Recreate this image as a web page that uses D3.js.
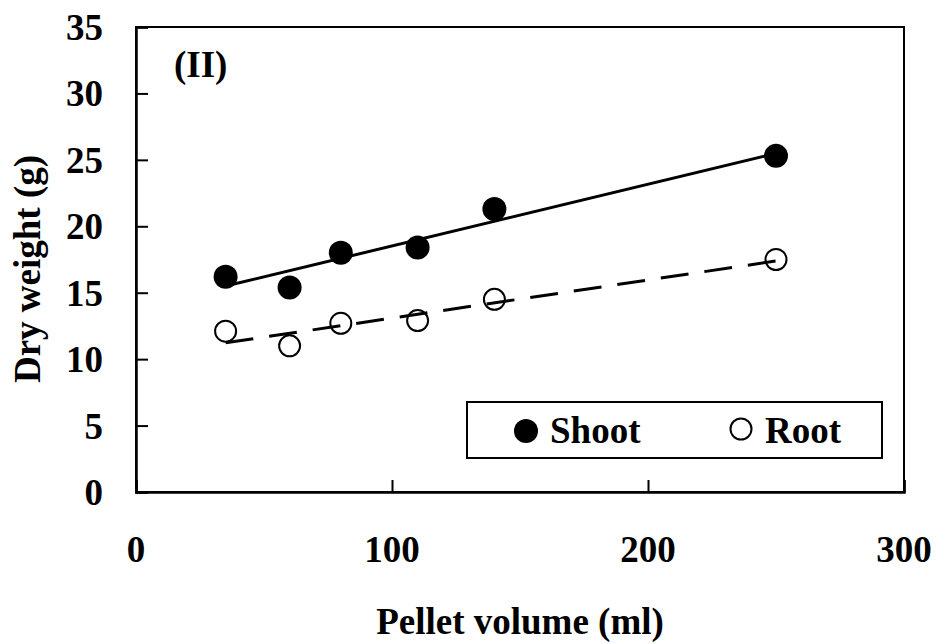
<!DOCTYPE html>
<html>
<head>
<meta charset="utf-8">
<script src="https://cdn.jsdelivr.net/npm/d3@7"></script>
<style>
  html, body { margin: 0; padding: 0; background: #fff; }
  svg text { font-family: "Liberation Serif", "Times New Roman", serif; font-weight: bold; fill: #000; }
</style>
</head>
<body>
<svg id="chart" width="937" height="644"></svg>
<script>
// Pellet volume (ml) and dry weight (g) of shoots and roots
const pelletVolume = [35, 60, 80, 110, 140, 250];
const shootWeight  = [16.2, 15.4, 18.0, 18.4, 21.3, 25.3];
const rootWeight   = [12.1, 11.0, 12.7, 12.9, 14.5, 17.5];
const xTicks = [0, 100, 200, 300];
const yTicks = [0, 5, 10, 15, 20, 25, 30, 35];
const seriesNames = ["Shoot", "Root"];
const panelLabel = "(II)";

const svg = d3.select("#chart");
const L = 136, R = 904, T = 27, B = 492;

const x = d3.scaleLinear().domain([0, 300]).range([L, R]);
const y = d3.scaleLinear().domain([0, 35]).range([B, T]);

// least-squares fit used for each trendline
function fit(xs, ys) {
  const mx = d3.mean(xs), my = d3.mean(ys);
  const sxy = d3.sum(xs, (v, i) => (v - mx) * (ys[i] - my));
  const sxx = d3.sum(xs, v => (v - mx) * (v - mx));
  const b = sxy / sxx, a = my - b * mx;
  const ext = d3.extent(xs);
  return ext.map(v => [v, a + b * v]);
}

// plot frame
svg.append("rect")
  .attr("x", L).attr("y", T).attr("width", R - L).attr("height", B - T)
  .attr("fill", "none").attr("stroke", "#000").attr("stroke-width", 2);

// axes with inward ticks
const yAxis = d3.axisRight(y).tickValues(yTicks).tickSize(12).tickFormat("");
const gy = svg.append("g").attr("transform", `translate(${L},0)`).call(yAxis);
const xAxis = d3.axisTop(x).tickValues(xTicks).tickSize(12).tickFormat("");
const gx = svg.append("g").attr("transform", `translate(0,${B})`).call(xAxis);
[gx, gy].forEach(g => {
  g.select(".domain").attr("stroke", "#000").attr("stroke-width", 2.5);
  g.selectAll(".tick line").attr("stroke", "#000").attr("stroke-width", 2);
});

// tick labels
svg.append("g").selectAll("text").data(yTicks).join("text")
  .attr("x", 103).attr("y", d => y(d)).attr("dy", "0.35em")
  .attr("text-anchor", "end").style("font-size", "37px")
  .text(d => d);
svg.append("g").selectAll("text").data(xTicks).join("text")
  .attr("x", d => x(d)).attr("y", 562)
  .attr("text-anchor", "middle").style("font-size", "37px")
  .text(d => d);

// axis titles
svg.append("text")
  .attr("x", x(150)).attr("y", 634)
  .attr("text-anchor", "middle").style("font-size", "37px")
  .text("Pellet volume (ml)");
svg.append("text")
  .attr("transform", `translate(40,${269}) rotate(-90)`)
  .attr("text-anchor", "middle").style("font-size", "37px")
  .text("Dry weight (g)");

// panel label
svg.append("text")
  .attr("x", 174).attr("y", 77).style("font-size", "37px")
  .text(panelLabel);

// trendlines
const line = d3.line().x(d => x(d[0])).y(d => y(d[1]));
svg.append("path").datum(fit(pelletVolume, shootWeight))
  .attr("d", line).attr("fill", "none").attr("stroke", "#000").attr("stroke-width", 3);
svg.append("path").datum(fit(pelletVolume, rootWeight))
  .attr("d", line).attr("fill", "none").attr("stroke", "#000").attr("stroke-width", 3)
  .attr("stroke-dasharray", "28,16");

// data points
svg.append("g").selectAll("circle").data(pelletVolume).join("circle")
  .attr("cx", d => x(d)).attr("cy", (d, i) => y(shootWeight[i])).attr("r", 12)
  .attr("fill", "#000");
svg.append("g").selectAll("circle").data(pelletVolume).join("circle")
  .attr("cx", d => x(d)).attr("cy", (d, i) => y(rootWeight[i])).attr("r", 10.5)
  .attr("fill", "none").attr("stroke", "#000").attr("stroke-width", 2);

// legend
const lg = svg.append("g");
lg.append("rect").attr("x", 467).attr("y", 402).attr("width", 415).attr("height", 56)
  .attr("fill", "#fff").attr("stroke", "#000").attr("stroke-width", 2);
lg.append("circle").attr("cx", 526).attr("cy", 431).attr("r", 12).attr("fill", "#000");
lg.append("text").attr("x", 550).attr("y", 443).style("font-size", "37px").text(seriesNames[0]);
lg.append("circle").attr("cx", 741).attr("cy", 429).attr("r", 10.5)
  .attr("fill", "none").attr("stroke", "#000").attr("stroke-width", 2);
lg.append("text").attr("x", 765).attr("y", 443).style("font-size", "37px").text(seriesNames[1]);
</script>
</body>
</html>
